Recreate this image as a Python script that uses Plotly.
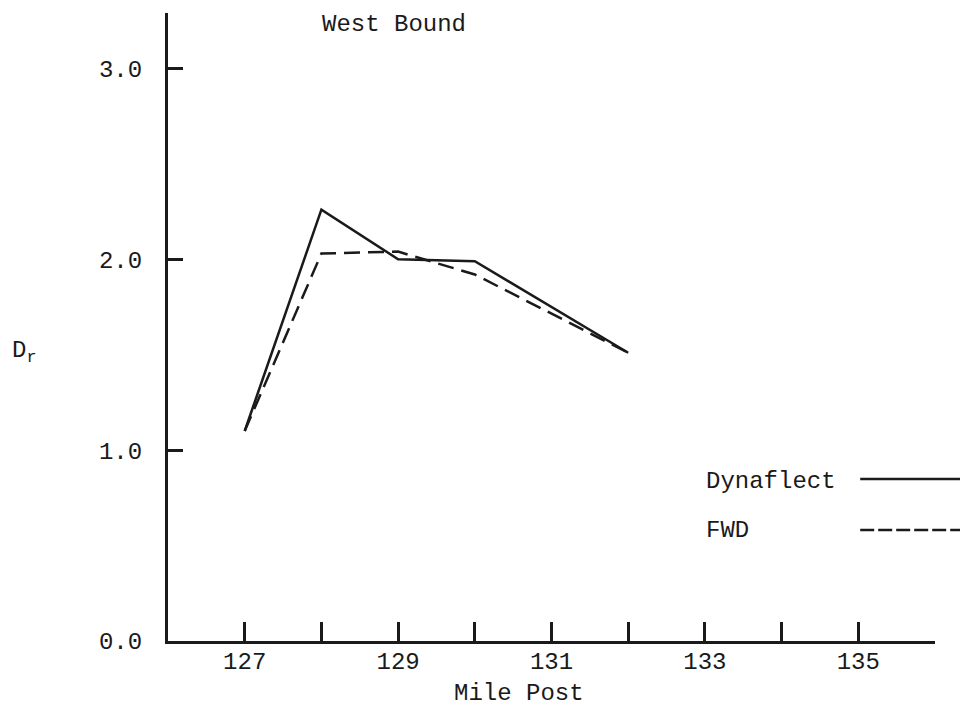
import plotly.graph_objects as go

mile_post = [127, 128, 129, 130, 132]
dynaflect = [1.10, 2.26, 2.00, 1.99, 1.51]
fwd = [1.10, 2.03, 2.04, 1.92, 1.51]

x_tickvals = [127, 129, 131, 133, 135]
x_ticktext = ["127", "129", "131", "133", "135"]
y_tickvals = [0, 1, 2, 3]
y_ticktext = ["0.0", "1.0", "2.0", "3.0"]

FONT = "Liberation Mono, Courier New, monospace"
INK = "#1a1a1a"

# plot area in window pixels: x 166..935, y 13..641 (page has 8px body margin)
PL, PR, PT, PB = 166, 935, 13, 641
PW, PH = PR - PL, PB - PT


def px(x):
    return (x - PL) / PW


def py(y):
    return (PB - y) / PH


fig = go.Figure()
fig.add_trace(go.Scatter(x=mile_post, y=dynaflect, mode="lines", name="Dynaflect",
                         line=dict(color=INK, width=2.5)))
fig.add_trace(go.Scatter(x=mile_post, y=fwd, mode="lines", name="FWD",
                         line=dict(color=INK, width=2.5, dash="16px,8px")))

fig.update_layout(
    width=960, height=698,
    margin=dict(l=PL - 6, r=968 - PR, t=PT - 8, b=706 - PB),
    paper_bgcolor="white", plot_bgcolor="white",
    showlegend=False,
    font=dict(family=FONT, size=24, color=INK),
    xaxis=dict(range=[126, 136], tickvals=x_tickvals, ticktext=x_ticktext,
               showline=True, linecolor=INK, linewidth=3, ticks="inside",
               ticklen=19, tickwidth=2.5, tickcolor=INK, showgrid=False,
               zeroline=False, tickfont=dict(size=24), ticklabelstandoff=-4,
               minor=dict(ticks="inside", ticklen=19, tickwidth=2.5,
                          tickcolor=INK, tick0=127, dtick=1, showgrid=False)),
    yaxis=dict(range=[0, 3.29], tickvals=y_tickvals, ticktext=y_ticktext,
               showline=True, linecolor=INK, linewidth=3, ticks="inside",
               ticklen=15, tickwidth=2.5, tickcolor=INK, showgrid=False,
               zeroline=False, tickfont=dict(size=24), ticklabelstandoff=18),
)

annotations = [
    dict(text="West Bound", x=px(318), y=py(24), xanchor="left", yanchor="middle"),
    dict(text="Mile Post", x=px(518), y=py(693), xanchor="center", yanchor="middle"),
    dict(text="D<sub>r</sub>", x=px(8), y=py(352), xanchor="left", yanchor="middle"),
    dict(text="Dynaflect", x=px(703), y=py(481), xanchor="left", yanchor="middle"),
    dict(text="FWD", x=px(703), y=py(530), xanchor="left", yanchor="middle"),
]
for a in annotations:
    a.update(xref="paper", yref="paper", showarrow=False, font=dict(size=24))
fig.update_layout(annotations=annotations)

fig.add_shape(type="line", xref="paper", yref="paper",
              x0=px(860), x1=px(968), y0=py(479), y1=py(479),
              line=dict(color=INK, width=2.5))
fig.add_shape(type="line", xref="paper", yref="paper",
              x0=px(860), x1=px(968), y0=py(530), y1=py(530),
              line=dict(color=INK, width=2.5, dash="14px,4px"))

fig.write_html("out.html")
